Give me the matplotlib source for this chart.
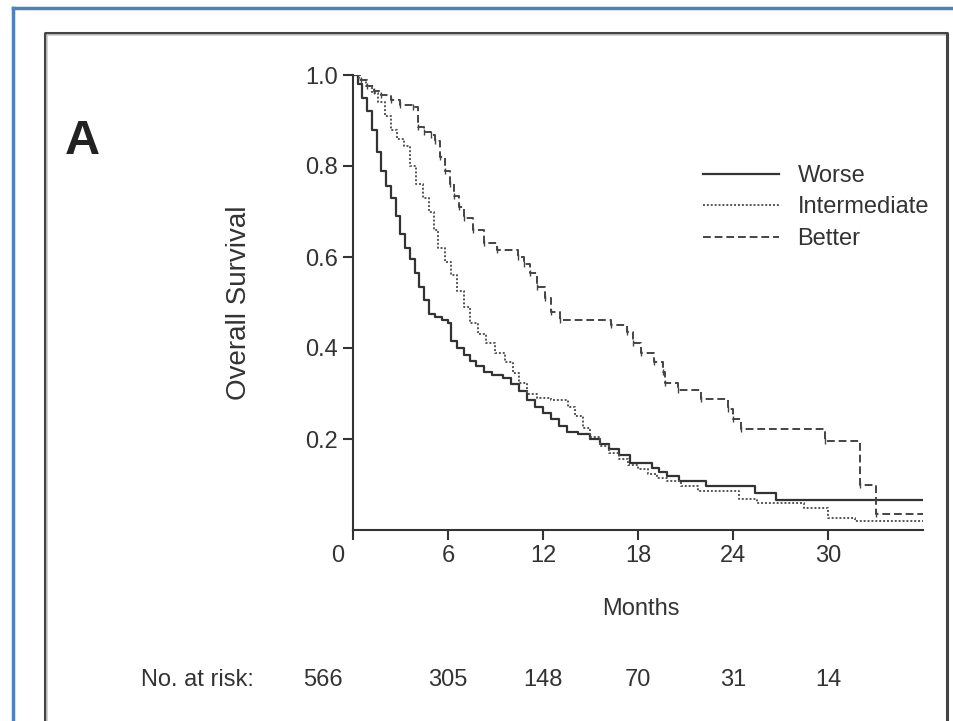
import matplotlib
matplotlib.use("Agg")
import matplotlib.pyplot as plt
import matplotlib.transforms as mtransforms
from matplotlib.lines import Line2D

plt.rcParams['font.family'] = ['Liberation Sans Narrow', 'Liberation Sans', 'DejaVu Sans']

# Kaplan-Meier curves (months, survival)
worse_t = [0, 0.3, 0.6, 0.9, 1.2, 1.5, 1.8, 2.1, 2.4, 2.7, 3.0, 3.3, 3.6, 3.9, 4.2, 4.5,
           4.8, 5.2, 5.6, 6.0, 6.2, 6.6, 7.0, 7.4, 7.8, 8.3, 8.8, 9.5, 10.0, 10.5, 11.0,
           11.5, 12.0, 12.5, 13.0, 13.5, 14.2, 15.0, 15.6, 16.2, 16.8, 17.5, 18.9, 19.3,
           19.8, 20.6, 22.3, 25.4, 26.7, 36.0]
worse_s = [1.0, 0.98, 0.95, 0.92, 0.88, 0.83, 0.79, 0.755, 0.73, 0.69, 0.65, 0.62, 0.595,
           0.565, 0.535, 0.505, 0.475, 0.468, 0.462, 0.455, 0.415, 0.40, 0.385, 0.372,
           0.36, 0.348, 0.34, 0.335, 0.32, 0.305, 0.285, 0.27, 0.258, 0.243, 0.228, 0.215,
           0.21, 0.20, 0.19, 0.178, 0.165, 0.148, 0.137, 0.128, 0.118, 0.108, 0.097,
           0.082, 0.066, 0.066]

inter_t = [0, 0.4, 0.8, 1.2, 1.6, 2.0, 2.4, 2.8, 3.2, 3.6, 4.0, 4.4, 4.8, 5.1, 5.4, 5.8,
           6.2, 6.6, 7.0, 7.4, 7.9, 8.4, 9.0, 9.6, 10.1, 10.5, 11.0, 11.6, 12.5, 13.6,
           14.0, 14.5, 15.0, 15.6, 16.2, 16.8, 17.4, 18.0, 18.6, 19.2, 19.8, 20.7, 21.8,
           24.4, 25.5, 28.5, 30.0, 31.7, 36.0]
inter_s = [1.0, 0.99, 0.975, 0.96, 0.94, 0.91, 0.88, 0.86, 0.843, 0.80, 0.76, 0.73, 0.70,
           0.66, 0.62, 0.59, 0.56, 0.525, 0.49, 0.455, 0.43, 0.41, 0.39, 0.37, 0.345,
           0.322, 0.30, 0.29, 0.285, 0.27, 0.25, 0.225, 0.205, 0.185, 0.17, 0.155, 0.143,
           0.133, 0.124, 0.115, 0.107, 0.097, 0.086, 0.068, 0.06, 0.049, 0.026, 0.02, 0.02]

better_t = [0, 0.5, 0.9, 1.3, 1.8, 2.4, 3.0, 3.8, 4.1, 4.5, 4.9, 5.2, 5.5, 5.8, 6.1, 6.4,
            6.7, 7.0, 7.6, 8.3, 9.1, 10.4, 10.8, 11.2, 11.6, 12.1, 12.5, 13.1, 16.3, 17.3,
            17.7, 18.2, 19.0, 19.6, 19.7, 20.5, 22.0, 23.7, 24.0, 24.5, 29.8, 32.0, 33.0,
            36.0]
better_s = [1.0, 0.99, 0.975, 0.965, 0.955, 0.945, 0.935, 0.93, 0.885, 0.875, 0.868, 0.855,
            0.82, 0.79, 0.76, 0.735, 0.71, 0.685, 0.66, 0.63, 0.616, 0.60, 0.585, 0.565,
            0.535, 0.51, 0.48, 0.461, 0.45, 0.435, 0.41, 0.39, 0.369, 0.347, 0.322, 0.307,
            0.289, 0.267, 0.245, 0.223, 0.196, 0.10, 0.035, 0.035]

xticks = [0, 6, 12, 18, 24, 30]
yticks = [0.2, 0.4, 0.6, 0.8, 1.0]
risk_t = [0, 6, 12, 18, 24, 30]
risk_n = [566, 305, 148, 70, 31, 14]

ink = '#333333'
fs = 17
W, H = 954, 721
fig = plt.figure(figsize=(W / 100, H / 100), dpi=100)
ax = fig.add_axes([353 / W, 1 - 530 / H, 570 / W, 455 / H])

ax.step(worse_t, worse_s, where='post', color=ink, lw=1.6, label='Worse')
ax.step(inter_t, inter_s, where='post', color='#555555', lw=1.4,
        linestyle=(0, (1, 1)), label='Intermediate')
ax.step(better_t, better_s, where='post', color='#444444', lw=1.4,
        linestyle=(0, (4, 2)), label='Better')
ax.plot(better_t[1:-1], better_s[1:-1], '|', color='#444444', ms=4, mew=1)

ax.set_xlim(0, 36)
ax.set_ylim(0, 1.0)
ax.set_xticks(xticks)
ax.set_yticks(yticks)
ax.set_yticklabels(['%.1f' % v for v in yticks])
for s in ['top', 'right']:
    ax.spines[s].set_visible(False)
for s in ['left', 'bottom']:
    ax.spines[s].set_color(ink)
    ax.spines[s].set_linewidth(1.5)
ax.tick_params(direction='out', length=7, width=1.5, color=ink,
               labelsize=fs, labelcolor=ink, pad=4)
# the "0" label sits a bit left of the origin
lab0 = ax.get_xticklabels()[0]
lab0.set_transform(lab0.get_transform() +
                   mtransforms.ScaledTranslation(-15 / 100, 0, fig.dpi_scale_trans))

ax.set_ylabel('Overall Survival', fontsize=20, color=ink)
ax.yaxis.set_label_coords(-0.178, 0.5)
ax.set_xlabel('Months', fontsize=fs, color=ink)
ax.xaxis.set_label_coords(0.505, -0.15)

# number at risk row
trans = mtransforms.blended_transform_factory(ax.transData, ax.transAxes)
for i, (t, n) in enumerate(zip(risk_t, risk_n)):
    off = -30 if i == 0 else 0
    tr = trans + mtransforms.ScaledTranslation(off / 100, 0, fig.dpi_scale_trans)
    ax.text(t, -0.33, str(n), transform=tr, ha='center', va='center',
            fontsize=fs, color=ink, clip_on=False)
fig.text(197 / W, 1 - 680 / H, 'No. at risk:', ha='center', va='center',
         fontsize=fs, color=ink)

ax.legend(loc='upper left', bbox_to_anchor=(703 / W, 1 - 165 / H),
          bbox_transform=fig.transFigure, frameon=False, fontsize=fs,
          handlelength=3.2, handletextpad=0.8, labelspacing=0.4,
          borderpad=0, borderaxespad=0, labelcolor=ink)

fig.text(82 / W, 1 - 141 / H, 'A', ha='center', va='center', fontsize=35,
         fontweight='bold', color='#222222')

# panel frames
fig.add_artist(Line2D([13 / W, 13 / W], [0, 1 - 8 / H], transform=fig.transFigure,
                      color='#4f81bd', lw=2.5))
fig.add_artist(Line2D([13 / W, 1], [1 - 8 / H, 1 - 8 / H], transform=fig.transFigure,
                      color='#4f81bd', lw=2.5))
fig.add_artist(Line2D([45 / W, 45 / W, 947 / W, 947 / W],
                      [0, 1 - 33 / H, 1 - 33 / H, 0], transform=fig.transFigure,
                      color='#444444', lw=2.2))
fig.add_artist(Line2D([47 / W, 47 / W, 945 / W],
                      [0, 1 - 35 / H, 1 - 35 / H], transform=fig.transFigure,
                      color='#cccccc', lw=1.2))

fig.savefig('out.png', dpi=100)
